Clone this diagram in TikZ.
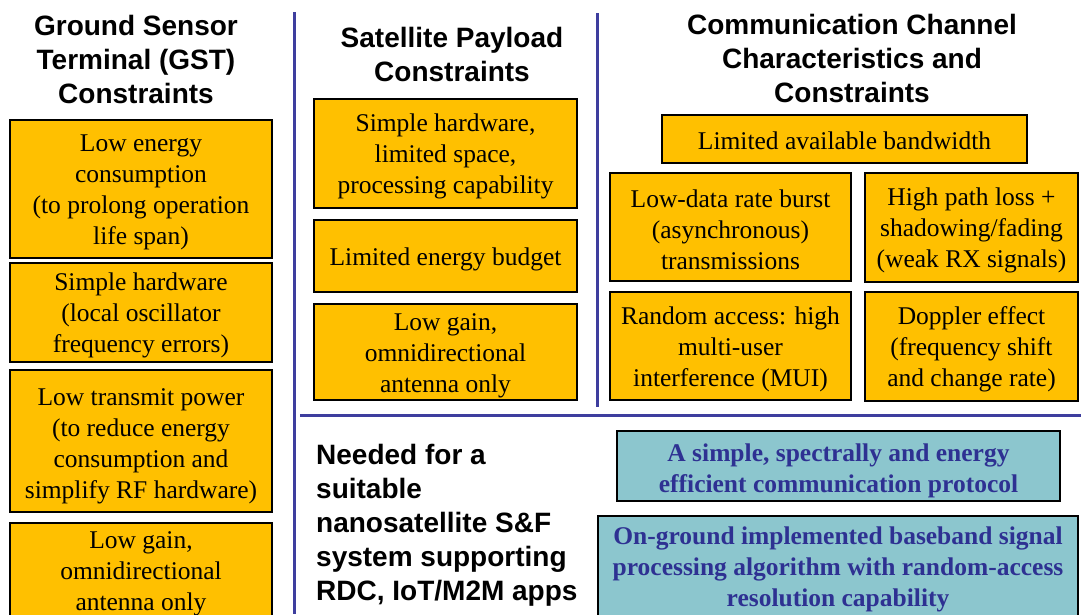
\documentclass[tikz,border=0pt]{standalone}
\usepackage{fontspec}
\setmainfont{Liberation Serif}
\setsansfont{Liberation Sans}
\definecolor{gold}{RGB}{255,192,0}
\definecolor{aqua}{RGB}{140,198,206}
\definecolor{inkblue}{RGB}{46,49,146}
\definecolor{rulecol}{RGB}{62,62,158}
% invisible strut that makes the first line taller, pushing a text block down a little
\newcommand\tallrow[1][24pt]{\rule{0pt}{#1}}
\begin{document}
\begin{tikzpicture}[x=1pt,y=-1pt,
  obox/.style={draw=black, line width=2pt, fill=gold, align=center, inner sep=0pt,
    font=\fontsize{25.5}{31}\selectfont},
  tbox/.style={draw=black, line width=2pt, fill=aqua, align=center, inner sep=0pt,
    text=inkblue, font=\fontsize{25.5}{31}\selectfont\bfseries},
  heading/.style={align=center, inner sep=0pt,
    font=\sffamily\bfseries\fontsize{28}{34}\selectfont},
  sepline/.style={draw=rulecol, line width=3pt}]
\useasboundingbox (0,0) rectangle (1081,614);
\fill[white] (0,0) rectangle (1081,614);

% column separators
\draw[sepline] (294,12) -- (294,614);
\draw[sepline] (597,13) -- (597,407);
\draw[sepline] (300,415) -- (1081,415);

% Ground sensor terminal column
\node[heading] (hgst) at (136,59) {Ground Sensor\\Terminal (GST)\\Constraints};
\node[obox, minimum width=262pt, minimum height=138pt] (g1) at (141,189)
  {\tallrow Low energy\\consumption\\(to prolong operation\\life span)};
\node[obox, minimum width=262pt, minimum height=99pt] (g2) at (141,312.5)
  {\tallrow Simple hardware\\(local oscillator\\frequency errors)};
\node[obox, minimum width=262pt, minimum height=142pt] (g3) at (141,441)
  {\tallrow[27pt]Low transmit power\\(to reduce energy\\consumption and\\simplify RF hardware)};
\node[obox, minimum width=262pt, minimum height=100pt] (g4) at (141,573)
  {\tallrow[18pt]Low gain,\\omnidirectional\\antenna only};

% Satellite payload column
\node[heading] (hsat) at (452,54) {Satellite Payload\\Constraints};
\node[obox, minimum width=263pt, minimum height=109pt] (s1) at (445.5,153.5)
  {\tallrow Simple hardware,\\limited space,\\processing capability};
\node[obox, minimum width=263pt, minimum height=72pt] (s2) at (445.5,256)
  {\tallrow Limited energy budget};
\node[obox, minimum width=263pt, minimum height=96pt] (s3) at (445.5,352)
  {\tallrow Low gain,\\omnidirectional\\antenna only};

% Communication channel column
\node[heading] (hch) at (852,58) {Communication Channel\\Characteristics and\\Constraints};
\node[obox, minimum width=365pt, minimum height=48pt] (c0) at (844.5,139)
  {\tallrow[21pt]Limited available bandwidth};
\node[obox, minimum width=241pt, minimum height=108pt] (c1) at (730.5,227)
  {\tallrow Low-data rate burst\\(asynchronous)\\transmissions};
\node[obox, minimum width=213pt, minimum height=109pt] (c2) at (971.5,227.5)
  {\tallrow High path loss +\\shadowing/fading\\(weak RX signals)};
\node[obox, minimum width=241pt, minimum height=108pt] (c3) at (730.5,346)
  {\tallrow Random access: high\\multi-user\\interference (MUI)};
\node[obox, minimum width=213pt, minimum height=109pt] (c4) at (971.5,346.5)
  {\tallrow Doppler effect\\(frequency shift\\and change rate)};

% Requirements
\node[align=left, anchor=west, inner sep=0pt,
  font=\sffamily\bfseries\fontsize{28}{34}\selectfont] (need) at (316,525)
  {Needed for a\\suitable\\nanosatellite S\&F\\system supporting\\RDC, IoT/M2M apps};
\node[tbox, minimum width=443pt, minimum height=70pt] (t1) at (838.5,466)
  {\tallrow[28pt]A simple, spectrally and energy\\efficient communication protocol};
\node[tbox, minimum width=480pt, minimum height=104pt] (t2) at (838,568)
  {\tallrow[21pt]On-ground implemented baseband signal\\processing algorithm with random-access\\resolution capability};
\end{tikzpicture}
\end{document}
